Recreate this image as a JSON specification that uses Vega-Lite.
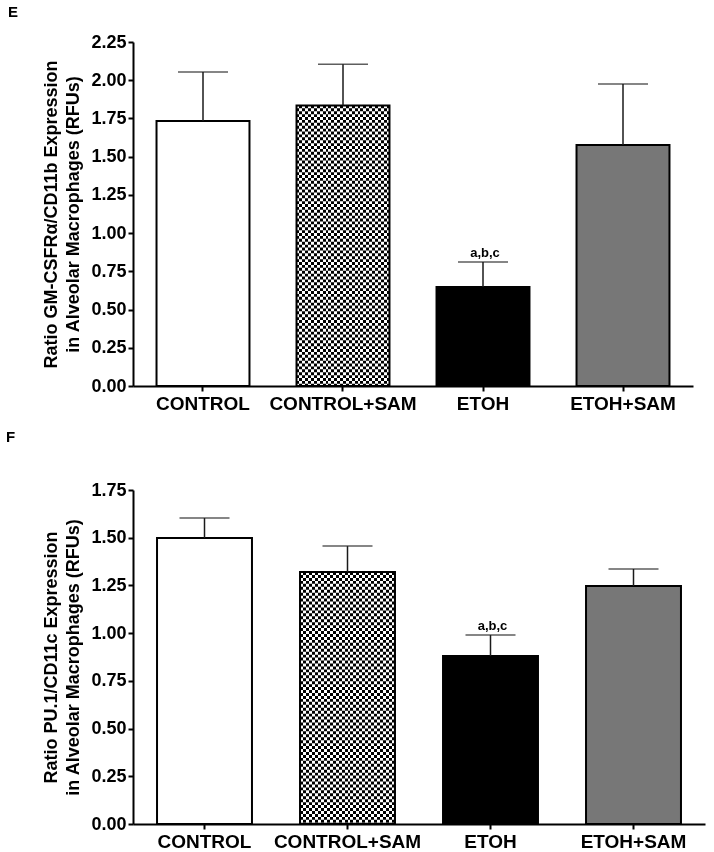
{
  "$schema": "https://vega.github.io/schema/vega-lite/v6.json",
  "background": "white",
  "padding": {"left": 5, "top": 5, "right": 5, "bottom": 2},
  "spacing": -3,
  "config": {
    "font": "Liberation Sans",
    "view": {"stroke": null},
    "axis": {
      "grid": false,
      "domainColor": "black",
      "domainWidth": 2,
      "tickColor": "black",
      "tickWidth": 2,
      "tickSize": 5,
      "labelFont": "Liberation Sans",
      "labelFontWeight": "bold",
      "labelColor": "black",
      "titleFont": "Liberation Sans",
      "titleFontWeight": "bold",
      "titleColor": "black"
    },
    "axisY": {"labelOverlap": false, "labelFontSize": 18, "labelPadding": 2, "titleFontSize": 18, "titleLineHeight": 22, "titlePadding": 8, "format": ".2f"}
  },
  "vconcat": [
    {
      "width": 560,
      "height": 344,
      "title": {"text": "E", "anchor": "start", "fontSize": 15, "fontWeight": "bold", "color": "black", "dx": -35, "offset": 13},
      "data": {"values": [
        {"group": "CONTROL", "mean": 1.733, "upper": 2.054, "sig": ""},
        {"group": "CONTROL+SAM", "mean": 1.835, "upper": 2.104, "sig": ""},
        {"group": "ETOH", "mean": 0.648, "upper": 0.811, "sig": "a,b,c"},
        {"group": "ETOH+SAM", "mean": 1.576, "upper": 1.975, "sig": ""}
      ]},
      "encoding": {
        "x": {
          "field": "group", "type": "nominal", "sort": null,
          "scale": {"domain": ["CONTROL", "CONTROL+SAM", "ETOH", "ETOH+SAM"], "paddingInner": 0.336, "paddingOuter": 0.168},
          "axis": {"title": null, "labelAngle": 0, "labelFontSize": 19, "labelPadding": 3}
        }
      },
      "layer": [
        {
          "mark": {"type": "bar", "strokeWidth": 0},
          "encoding": {
            "y": {"field": "mean", "type": "quantitative",
              "scale": {"domain": [0, 2.25], "nice": false},
              "axis": {"title": ["Ratio GM-CSFRα/CD11b Expression", "in Alveolar Macrophages  (RFUs)"],
                "values": [0, 0.25, 0.5, 0.75, 1, 1.25, 1.5, 1.75, 2, 2.25], "labelOverlap": false, "labelBound": false}},
            "color": {"field": "group", "type": "nominal",
              "scale": {"domain": ["CONTROL", "CONTROL+SAM", "ETOH", "ETOH+SAM"], "range": ["#ffffff", "#ffffff", "#000000", "#777777"]},
              "legend": null}
          }
        },
        {
          "transform": [{"filter": "datum.group === 'CONTROL+SAM'"}],
          "mark": {"type": "bar", "strokeWidth": 0,
            "fill": {
              "gradient": "linear", "x1": 0, "y1": 0, "x2": 1, "y2": 0,
              "stops": [{"offset":0,"color":"#000"},{"offset":0.03125,"color":"#000"},{"offset":0.03125,"color":"#fff"},{"offset":0.0625,"color":"#fff"},{"offset":0.0625,"color":"#000"},{"offset":0.09375,"color":"#000"},{"offset":0.09375,"color":"#fff"},{"offset":0.125,"color":"#fff"},{"offset":0.125,"color":"#000"},{"offset":0.15625,"color":"#000"},{"offset":0.15625,"color":"#fff"},{"offset":0.1875,"color":"#fff"},{"offset":0.1875,"color":"#000"},{"offset":0.21875,"color":"#000"},{"offset":0.21875,"color":"#fff"},{"offset":0.25,"color":"#fff"},{"offset":0.25,"color":"#000"},{"offset":0.28125,"color":"#000"},{"offset":0.28125,"color":"#fff"},{"offset":0.3125,"color":"#fff"},{"offset":0.3125,"color":"#000"},{"offset":0.34375,"color":"#000"},{"offset":0.34375,"color":"#fff"},{"offset":0.375,"color":"#fff"},{"offset":0.375,"color":"#000"},{"offset":0.40625,"color":"#000"},{"offset":0.40625,"color":"#fff"},{"offset":0.4375,"color":"#fff"},{"offset":0.4375,"color":"#000"},{"offset":0.46875,"color":"#000"},{"offset":0.46875,"color":"#fff"},{"offset":0.5,"color":"#fff"},{"offset":0.5,"color":"#000"},{"offset":0.53125,"color":"#000"},{"offset":0.53125,"color":"#fff"},{"offset":0.5625,"color":"#fff"},{"offset":0.5625,"color":"#000"},{"offset":0.59375,"color":"#000"},{"offset":0.59375,"color":"#fff"},{"offset":0.625,"color":"#fff"},{"offset":0.625,"color":"#000"},{"offset":0.65625,"color":"#000"},{"offset":0.65625,"color":"#fff"},{"offset":0.6875,"color":"#fff"},{"offset":0.6875,"color":"#000"},{"offset":0.71875,"color":"#000"},{"offset":0.71875,"color":"#fff"},{"offset":0.75,"color":"#fff"},{"offset":0.75,"color":"#000"},{"offset":0.78125,"color":"#000"},{"offset":0.78125,"color":"#fff"},{"offset":0.8125,"color":"#fff"},{"offset":0.8125,"color":"#000"},{"offset":0.84375,"color":"#000"},{"offset":0.84375,"color":"#fff"},{"offset":0.875,"color":"#fff"},{"offset":0.875,"color":"#000"},{"offset":0.90625,"color":"#000"},{"offset":0.90625,"color":"#fff"},{"offset":0.9375,"color":"#fff"},{"offset":0.9375,"color":"#000"},{"offset":0.96875,"color":"#000"},{"offset":0.96875,"color":"#fff"},{"offset":1,"color":"#fff"}]
            }},
          "encoding": {"y": {"field": "mean", "type": "quantitative", "axis": {"values": [0, 0.25, 0.5, 0.75, 1, 1.25, 1.5, 1.75, 2, 2.25], "labelOverlap": false, "labelBound": false}}}
        },
        {
          "transform": [{"filter": "datum.group === 'CONTROL+SAM'"}],
          "mark": {"type": "rule", "color": "white", "strokeWidth": 93, "strokeDash": [2.9, 2.9], "strokeCap": "butt", "blend": "difference"},
          "encoding": {"y": {"field": "mean", "type": "quantitative", "axis": {"values": [0, 0.25, 0.5, 0.75, 1, 1.25, 1.5, 1.75, 2, 2.25], "labelOverlap": false, "labelBound": false}}, "y2": {"datum": 0}}
        },
        {
          "mark": {"type": "bar", "filled": false, "color": "black", "strokeWidth": 2},
          "encoding": {"y": {"field": "mean", "type": "quantitative", "axis": {"values": [0, 0.25, 0.5, 0.75, 1, 1.25, 1.5, 1.75, 2, 2.25], "labelOverlap": false, "labelBound": false}}}
        },
        {
          "mark": {"type": "rule", "color": "#1a1a1a", "strokeWidth": 1.5},
          "encoding": {"y": {"field": "mean", "type": "quantitative", "axis": {"values": [0, 0.25, 0.5, 0.75, 1, 1.25, 1.5, 1.75, 2, 2.25], "labelOverlap": false, "labelBound": false}}, "y2": {"field": "upper"}}
        },
        {
          "mark": {"type": "tick", "orient": "horizontal", "size": 50, "thickness": 1.5, "color": "#1a1a1a"},
          "encoding": {"y": {"field": "upper", "type": "quantitative", "axis": {"values": [0, 0.25, 0.5, 0.75, 1, 1.25, 1.5, 1.75, 2, 2.25], "labelOverlap": false, "labelBound": false}}}
        },
        {
          "mark": {"type": "text", "baseline": "bottom", "dy": -2, "dx": 2, "fontSize": 13, "fontWeight": "bold", "color": "black"},
          "encoding": {"y": {"field": "upper", "type": "quantitative", "axis": {"values": [0, 0.25, 0.5, 0.75, 1, 1.25, 1.5, 1.75, 2, 2.25], "labelOverlap": false, "labelBound": false}}, "text": {"field": "sig"}}
        }
      ]
    },
    {
      "width": 572,
      "height": 334,
      "title": {"text": "F", "anchor": "start", "fontSize": 15, "fontWeight": "bold", "color": "black", "dx": -37, "offset": 36},
      "data": {"values": [
        {"group": "CONTROL", "mean": 1.498, "upper": 1.603, "sig": ""},
        {"group": "CONTROL+SAM", "mean": 1.32, "upper": 1.456, "sig": ""},
        {"group": "ETOH", "mean": 0.88, "upper": 0.99, "sig": "a,b,c"},
        {"group": "ETOH+SAM", "mean": 1.247, "upper": 1.336, "sig": ""}
      ]},
      "encoding": {
        "x": {
          "field": "group", "type": "nominal", "sort": null,
          "scale": {"domain": ["CONTROL", "CONTROL+SAM", "ETOH", "ETOH+SAM"], "paddingInner": 0.336, "paddingOuter": 0.168},
          "axis": {"title": null, "labelAngle": 0, "labelFontSize": 19, "labelPadding": 3}
        }
      },
      "layer": [
        {
          "mark": {"type": "bar", "strokeWidth": 0},
          "encoding": {
            "y": {"field": "mean", "type": "quantitative",
              "scale": {"domain": [0, 1.75], "nice": false},
              "axis": {"title": ["Ratio PU.1/CD11c Expression", "in Alveolar Macrophages  (RFUs)"],
                "values": [0, 0.25, 0.5, 0.75, 1, 1.25, 1.5, 1.75], "labelOverlap": false}},
            "color": {"field": "group", "type": "nominal",
              "scale": {"domain": ["CONTROL", "CONTROL+SAM", "ETOH", "ETOH+SAM"], "range": ["#ffffff", "#ffffff", "#000000", "#777777"]},
              "legend": null}
          }
        },
        {
          "transform": [{"filter": "datum.group === 'CONTROL+SAM'"}],
          "mark": {"type": "bar", "strokeWidth": 0,
            "fill": {
              "gradient": "linear", "x1": 0, "y1": 0, "x2": 1, "y2": 0,
              "stops": [{"offset":0,"color":"#000"},{"offset":0.03125,"color":"#000"},{"offset":0.03125,"color":"#fff"},{"offset":0.0625,"color":"#fff"},{"offset":0.0625,"color":"#000"},{"offset":0.09375,"color":"#000"},{"offset":0.09375,"color":"#fff"},{"offset":0.125,"color":"#fff"},{"offset":0.125,"color":"#000"},{"offset":0.15625,"color":"#000"},{"offset":0.15625,"color":"#fff"},{"offset":0.1875,"color":"#fff"},{"offset":0.1875,"color":"#000"},{"offset":0.21875,"color":"#000"},{"offset":0.21875,"color":"#fff"},{"offset":0.25,"color":"#fff"},{"offset":0.25,"color":"#000"},{"offset":0.28125,"color":"#000"},{"offset":0.28125,"color":"#fff"},{"offset":0.3125,"color":"#fff"},{"offset":0.3125,"color":"#000"},{"offset":0.34375,"color":"#000"},{"offset":0.34375,"color":"#fff"},{"offset":0.375,"color":"#fff"},{"offset":0.375,"color":"#000"},{"offset":0.40625,"color":"#000"},{"offset":0.40625,"color":"#fff"},{"offset":0.4375,"color":"#fff"},{"offset":0.4375,"color":"#000"},{"offset":0.46875,"color":"#000"},{"offset":0.46875,"color":"#fff"},{"offset":0.5,"color":"#fff"},{"offset":0.5,"color":"#000"},{"offset":0.53125,"color":"#000"},{"offset":0.53125,"color":"#fff"},{"offset":0.5625,"color":"#fff"},{"offset":0.5625,"color":"#000"},{"offset":0.59375,"color":"#000"},{"offset":0.59375,"color":"#fff"},{"offset":0.625,"color":"#fff"},{"offset":0.625,"color":"#000"},{"offset":0.65625,"color":"#000"},{"offset":0.65625,"color":"#fff"},{"offset":0.6875,"color":"#fff"},{"offset":0.6875,"color":"#000"},{"offset":0.71875,"color":"#000"},{"offset":0.71875,"color":"#fff"},{"offset":0.75,"color":"#fff"},{"offset":0.75,"color":"#000"},{"offset":0.78125,"color":"#000"},{"offset":0.78125,"color":"#fff"},{"offset":0.8125,"color":"#fff"},{"offset":0.8125,"color":"#000"},{"offset":0.84375,"color":"#000"},{"offset":0.84375,"color":"#fff"},{"offset":0.875,"color":"#fff"},{"offset":0.875,"color":"#000"},{"offset":0.90625,"color":"#000"},{"offset":0.90625,"color":"#fff"},{"offset":0.9375,"color":"#fff"},{"offset":0.9375,"color":"#000"},{"offset":0.96875,"color":"#000"},{"offset":0.96875,"color":"#fff"},{"offset":1,"color":"#fff"}]
            }},
          "encoding": {"y": {"field": "mean", "type": "quantitative", "axis": {"values": [0, 0.25, 0.5, 0.75, 1, 1.25, 1.5, 1.75], "labelOverlap": false}}}
        },
        {
          "transform": [{"filter": "datum.group === 'CONTROL+SAM'"}],
          "mark": {"type": "rule", "color": "white", "strokeWidth": 95, "strokeDash": [2.95, 2.95], "strokeCap": "butt", "blend": "difference"},
          "encoding": {"y": {"field": "mean", "type": "quantitative", "axis": {"values": [0, 0.25, 0.5, 0.75, 1, 1.25, 1.5, 1.75], "labelOverlap": false}}, "y2": {"datum": 0}}
        },
        {
          "mark": {"type": "bar", "filled": false, "color": "black", "strokeWidth": 2},
          "encoding": {"y": {"field": "mean", "type": "quantitative", "axis": {"values": [0, 0.25, 0.5, 0.75, 1, 1.25, 1.5, 1.75], "labelOverlap": false}}}
        },
        {
          "mark": {"type": "rule", "color": "#1a1a1a", "strokeWidth": 1.5},
          "encoding": {"y": {"field": "mean", "type": "quantitative", "axis": {"values": [0, 0.25, 0.5, 0.75, 1, 1.25, 1.5, 1.75], "labelOverlap": false}}, "y2": {"field": "upper"}}
        },
        {
          "mark": {"type": "tick", "orient": "horizontal", "size": 50, "thickness": 1.5, "color": "#1a1a1a"},
          "encoding": {"y": {"field": "upper", "type": "quantitative", "axis": {"values": [0, 0.25, 0.5, 0.75, 1, 1.25, 1.5, 1.75], "labelOverlap": false}}}
        },
        {
          "mark": {"type": "text", "baseline": "bottom", "dy": -2, "dx": 2, "fontSize": 13, "fontWeight": "bold", "color": "black"},
          "encoding": {"y": {"field": "upper", "type": "quantitative", "axis": {"values": [0, 0.25, 0.5, 0.75, 1, 1.25, 1.5, 1.75], "labelOverlap": false}}, "text": {"field": "sig"}}
        }
      ]
    }
  ]
}
